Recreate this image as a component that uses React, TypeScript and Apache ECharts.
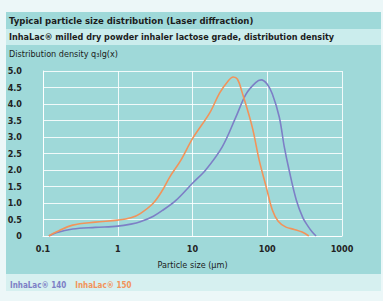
import React, { useEffect, useRef } from "react";
import * as echarts from "echarts";

const titleLine1 = "Typical particle size distribution (Laser diffraction)";
const titleLine2 = "InhaLac® milled dry powder inhaler lactose grade, distribution density";
const yAxisTitle = "Distribution density q₃lg(x)";
const xAxisTitle = "Particle size (µm)";
const seriesNames = ["InhaLac® 140", "InhaLac® 150"];
const seriesColors = ["#7d7fc6", "#f2935a"];

const sizes140 = [0.12, 0.15, 0.25, 0.5, 1, 1.5, 2, 3, 4, 6, 10, 15, 25, 38, 52, 70, 83, 100, 117, 145, 169, 196, 244, 300, 350, 400, 450];
const density140 = [0, 0.1, 0.21, 0.26, 0.3, 0.36, 0.43, 0.6, 0.78, 1.08, 1.6, 2.0, 2.7, 3.6, 4.3, 4.65, 4.73, 4.6, 4.3, 3.6, 2.7, 2.0, 1.1, 0.55, 0.3, 0.12, 0];

const sizes150 = [0.12, 0.15, 0.25, 0.5, 1, 1.5, 2, 3, 4, 5, 7, 10, 17, 23, 30, 35, 40, 46, 63, 78, 97, 117, 140, 178, 230, 293, 360];
const density150 = [0, 0.12, 0.33, 0.42, 0.48, 0.55, 0.68, 1.0, 1.4, 1.8, 2.3, 2.95, 3.73, 4.33, 4.7, 4.82, 4.75, 4.36, 3.3, 2.3, 1.48, 0.79, 0.45, 0.27, 0.2, 0.12, 0];

const FONT = '"DejaVu Sans Condensed", "Liberation Sans Narrow", "Liberation Sans", sans-serif';

export default function App() {
  const ref = useRef<HTMLDivElement>(null);
  useEffect(() => {
    document.body.style.margin = "0";
    const chart = echarts.init(ref.current!, undefined, { renderer: "svg" });
    const pairs = (xs: number[], ys: number[]) => xs.map((x, i) => [x, ys[i]]);
    chart.setOption({
      animation: false,
      backgroundColor: "#ecf7f8",
      graphic: [
        { type: "rect", silent: true, z: -10, shape: { x: 6, y: 12, width: 375, height: 17 }, style: { fill: "#9fd9d9" } },
        { type: "rect", silent: true, z: -10, shape: { x: 6, y: 29, width: 375, height: 16 }, style: { fill: "#cbeded" } },
        { type: "rect", silent: true, z: -10, shape: { x: 6, y: 45, width: 375, height: 229 }, style: { fill: "#9fd9d9" } },
        { type: "rect", silent: true, z: -10, shape: { x: 6, y: 274, width: 375, height: 17 }, style: { fill: "#d6f0f0" } },
        { type: "text", x: 9, y: 20, style: { text: titleLine1, font: `bold 9.5px ${FONT}`, fill: "#1c1c1c", textVerticalAlign: "middle" } },
        { type: "text", x: 9, y: 37, style: { text: titleLine2, font: `bold 9px ${FONT}`, fill: "#1c1c1c", textVerticalAlign: "middle" } },
        { type: "text", x: 9, y: 54, style: { text: yAxisTitle, font: `9px ${FONT}`, fill: "#1c1c1c", textVerticalAlign: "middle" } },
      ],
      legend: {
        left: 5,
        top: 278,
        padding: 0,
        icon: "none",
        itemWidth: 0,
        itemGap: 4,
        data: seriesNames.map((n, i) => ({ name: n, textStyle: { color: seriesColors[i] } })),
        textStyle: { fontFamily: FONT, fontSize: 8, fontWeight: "bold" },
      },
      grid: { left: 43, top: 71, width: 299, height: 165 },
      xAxis: {
        type: "log",
        logBase: 10,
        min: 0.1,
        max: 1000,
        name: xAxisTitle,
        nameLocation: "middle",
        nameGap: 24,
        nameTextStyle: { fontFamily: FONT, fontSize: 9, color: "#1c1c1c" },
        axisLine: { show: true, lineStyle: { color: "#ffffff", width: 1 } },
        axisTick: { show: false },
        axisLabel: {
          margin: 8,
          fontFamily: FONT,
          fontSize: 9,
          fontWeight: "bold",
          color: "#222",
          formatter: (v: number) => String(v),
        },
        splitLine: { show: true, lineStyle: { color: "#ffffff", width: 1, opacity: 0.85 } },
        minorTick: { show: false },
      },
      yAxis: {
        type: "value",
        min: 0,
        max: 5,
        interval: 0.5,
        axisLine: { show: true, lineStyle: { color: "#ffffff", width: 1 } },
        axisTick: { show: false },
        axisLabel: {
          margin: 21,
          fontFamily: FONT,
          fontSize: 9,
          fontWeight: "bold",
          color: "#222",
          formatter: (v: number) => (v === 0 ? "0" : v.toFixed(1)),
        },
        splitLine: { show: true, lineStyle: { color: "#ffffff", width: 1, opacity: 0.85 } },
      },
      series: [
        {
          name: seriesNames[0],
          type: "line",
          smooth: 0.35,
          showSymbol: false,
          symbol: "none",
          data: pairs(sizes140, density140),
          lineStyle: { color: seriesColors[0], width: 1.6 },
          itemStyle: { color: seriesColors[0] },
        },
        {
          name: seriesNames[1],
          type: "line",
          smooth: 0.35,
          showSymbol: false,
          symbol: "none",
          data: pairs(sizes150, density150),
          lineStyle: { color: seriesColors[1], width: 1.6 },
          itemStyle: { color: seriesColors[1] },
        },
      ],
    });
    return () => chart.dispose();
  }, []);
  return <div ref={ref} style={{ position: "fixed", left: 0, top: 0, width: 383, height: 301 }} />;
}
